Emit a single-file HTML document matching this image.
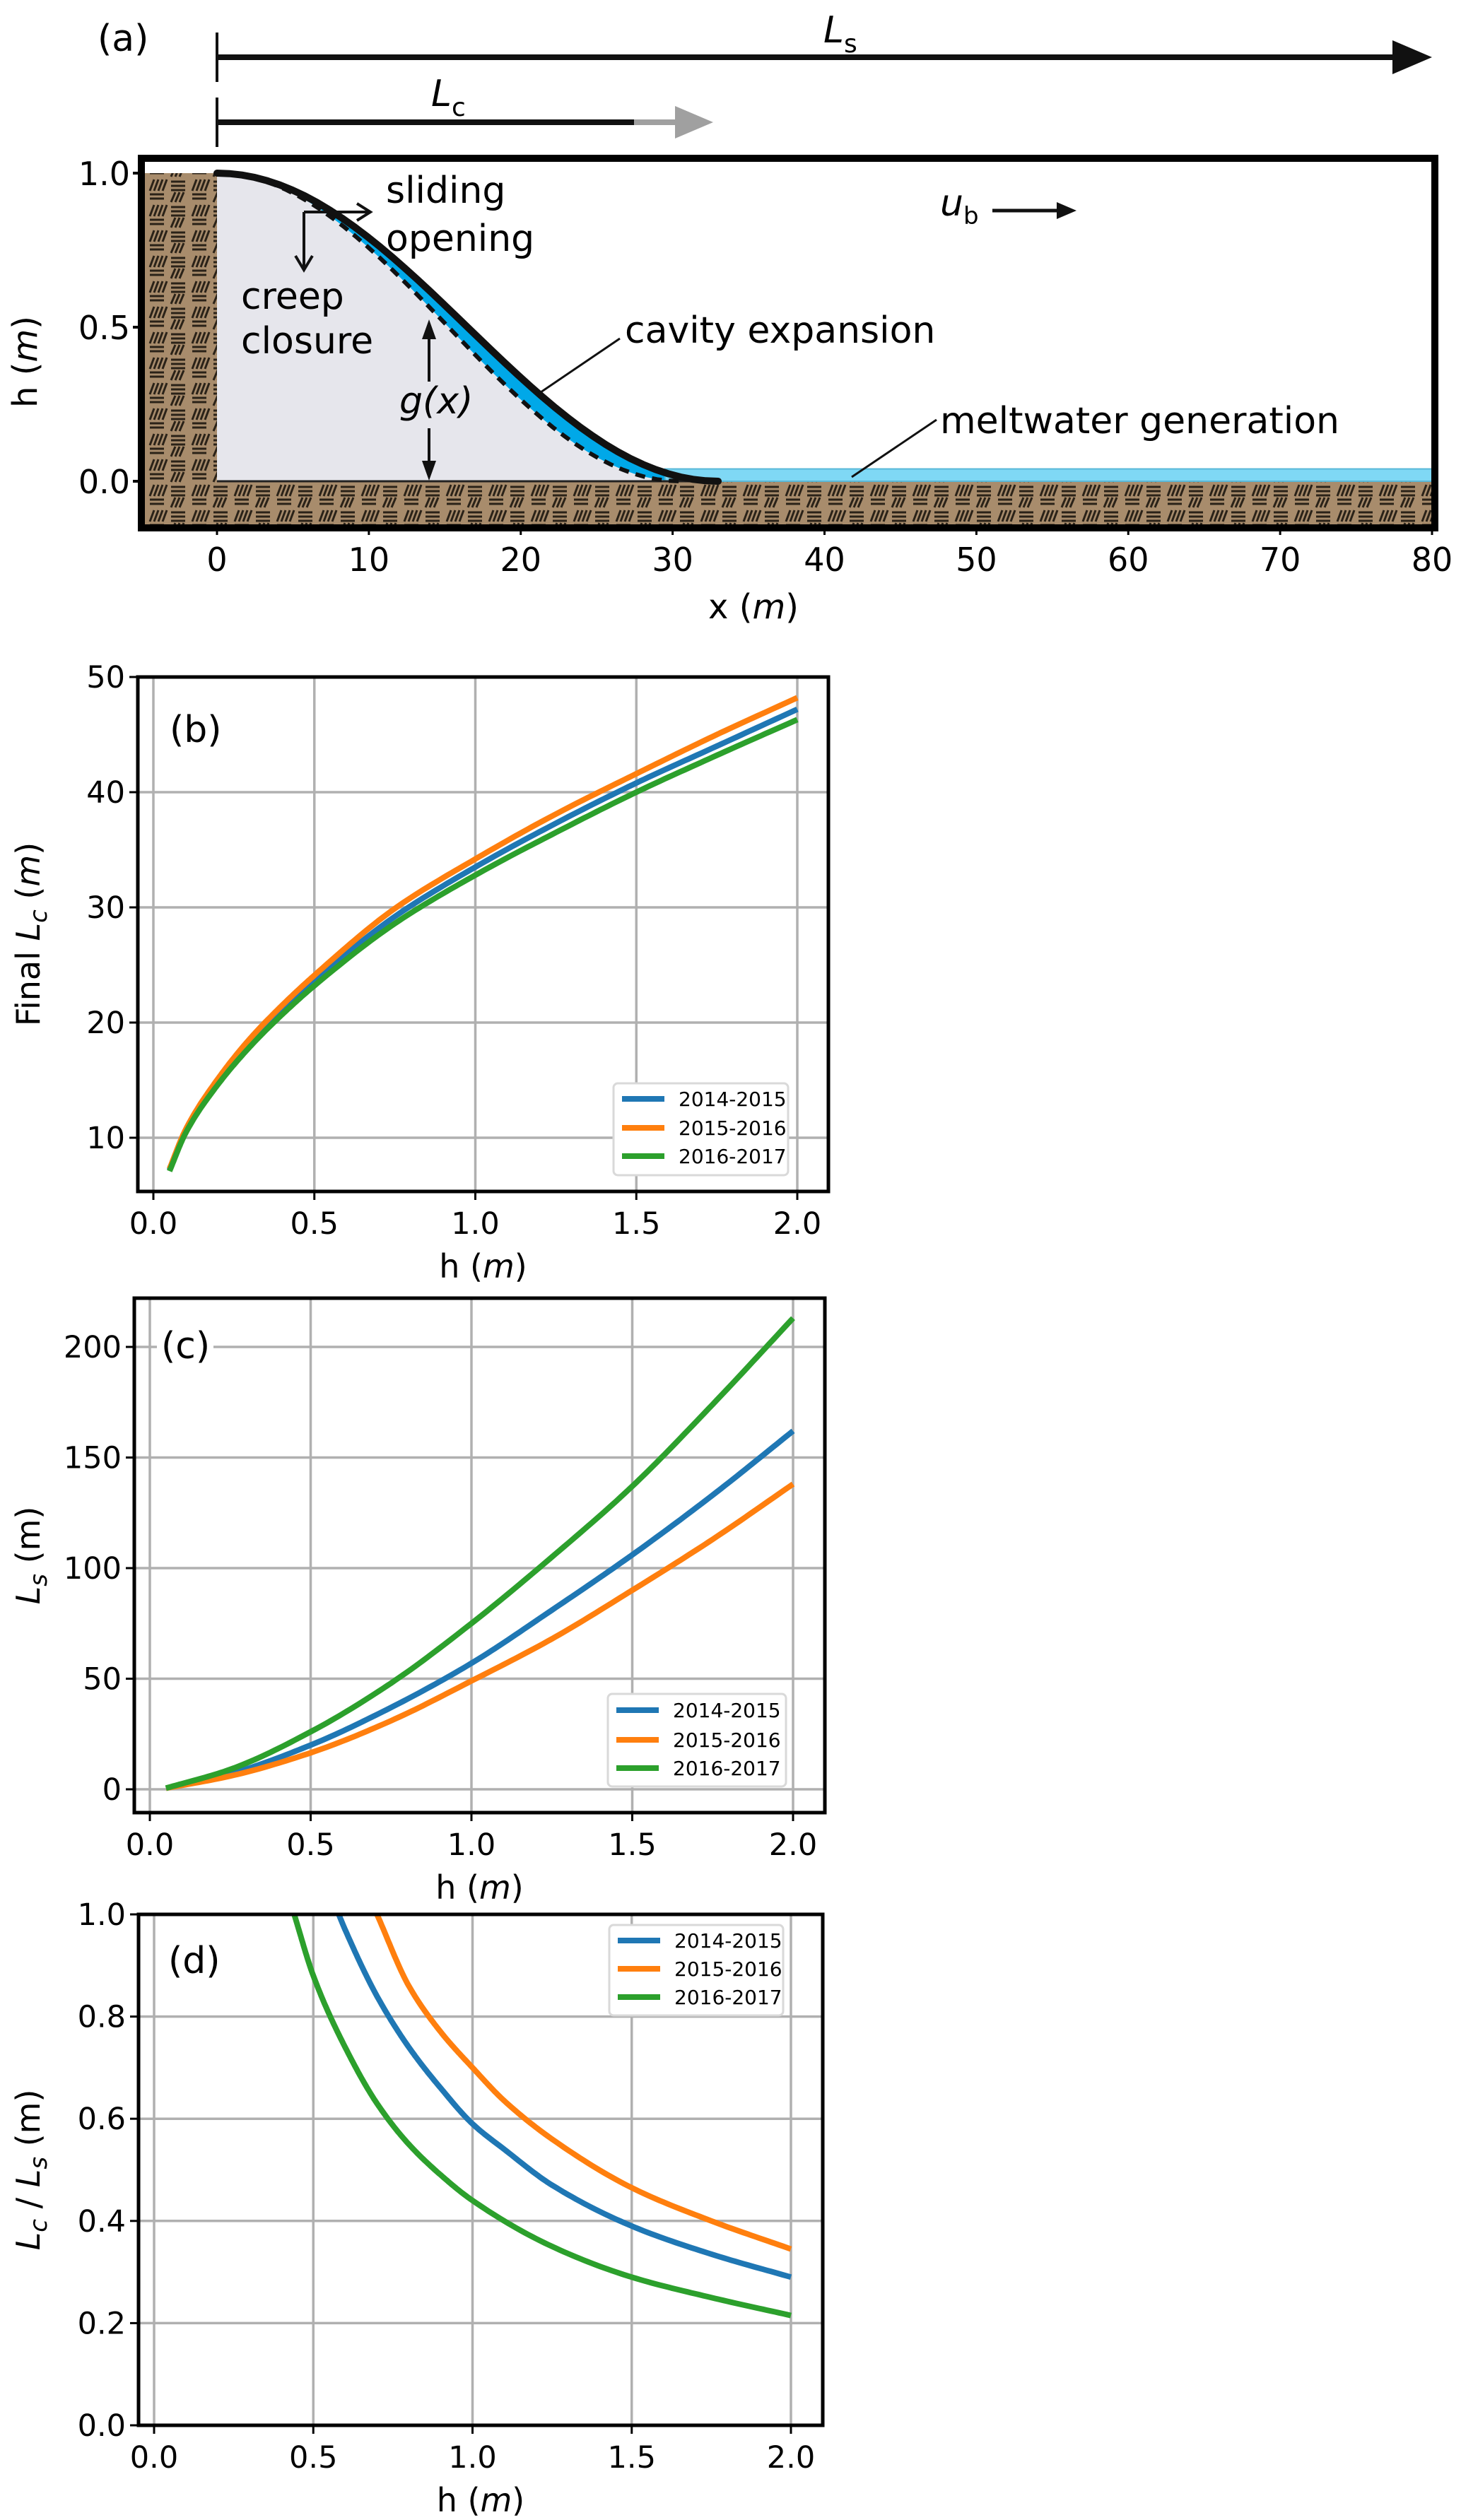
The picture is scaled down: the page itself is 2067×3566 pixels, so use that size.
<!DOCTYPE html>
<html><head><meta charset="utf-8"><style>
html,body{margin:0;padding:0;background:#fff}
svg{display:block;font-family:"DejaVu Sans","Liberation Sans",sans-serif}
</style></head><body>
<svg id="fig" width="2067" height="3566" viewBox="0 0 2067 3566" xmlns="http://www.w3.org/2000/svg">
<defs>
<pattern id="soil" width="60" height="36" patternUnits="userSpaceOnUse">
<rect width="60" height="36" fill="#a88c6c"/>
<g stroke="#2a2218" stroke-width="3">
<line x1="2" y1="5" x2="22" y2="5"/><line x1="2" y1="11" x2="22" y2="11"/><line x1="2" y1="17" x2="22" y2="17"/>
<line x1="32" y1="18" x2="38" y2="2"/><line x1="38" y1="18" x2="44" y2="2"/><line x1="44" y1="18" x2="50" y2="2"/><line x1="50" y1="18" x2="56" y2="2"/>
<line x1="32" y1="23" x2="52" y2="23"/><line x1="32" y1="29" x2="52" y2="29"/>
<line x1="2" y1="34" x2="8" y2="20"/><line x1="8" y1="34" x2="14" y2="20"/><line x1="14" y1="34" x2="20" y2="20"/>
</g>
</pattern>
</defs>
<g id="panelA"></g>
<g id="panelB"></g>
<g id="panelC"></g>
<g id="panelD"></g>
</svg>
<script>
// ---- data ----
const seriesNames = ["2014-2015","2015-2016","2016-2017"];
const seriesColors = ["#1f77b4","#ff7f0e","#2ca02c"];
const hB = [0.05,0.1,0.2,0.3,0.4,0.5,0.75,1.0,1.25,1.5,1.75,2.0];
const lcBlue   = [7.2,10.5,14.8,18.2,21.0,23.6,29.2,33.5,37.3,40.8,44.0,47.2];
const lcOrange = [7.3,10.7,15.1,18.6,21.5,24.1,29.9,34.2,38.1,41.6,45.0,48.2];
const lcGreen  = [7.1,10.4,14.6,17.9,20.7,23.2,28.6,32.8,36.5,40.0,43.2,46.3];
const hC = [0.05,0.25,0.5,0.75,1.0,1.25,1.5,1.75,2.0];
const lsBlue   = [0.5,7,20,37,57,81,106,133,162];
const lsOrange = [0.5,6,16.5,31,49,68,90,113,138];
const lsGreen  = [0.5,9,26,48,75,105,137,174,213];
const hDBlue   = [0.58,0.6,0.7,0.8,0.9,1.0,1.1,1.25,1.5,1.75,2.0];
const rBlue    = [1.0,0.97,0.84,0.74,0.66,0.59,0.54,0.47,0.39,0.335,0.29];
const hDOrange = [0.70,0.8,0.9,1.0,1.1,1.25,1.5,1.75,2.0];
const rOrange  = [1.0,0.86,0.77,0.70,0.635,0.56,0.465,0.40,0.345];
const hDGreen  = [0.44,0.5,0.6,0.7,0.8,0.9,1.0,1.25,1.5,1.75,2.0];
const rGreen   = [1.0,0.88,0.74,0.63,0.55,0.49,0.44,0.35,0.29,0.25,0.215];
const xTicksH = [0,0.5,1.0,1.5,2.0];
const xTickLabelsH = ["0.0","0.5","1.0","1.5","2.0"];
const yTicksB = [10,20,30,40,50];
const yTicksC = [0,50,100,150,200];
const yTicksD = [0,0.2,0.4,0.6,0.8,1.0];
const yTickLabelsD = ["0.0","0.2","0.4","0.6","0.8","1.0"];
const xTicksA = [0,10,20,30,40,50,60,70,80];
const yTicksA = [0,0.5,1.0];
const yTickLabelsA = ["0.0","0.5","1.0"];

const NS="http://www.w3.org/2000/svg";
function mk(parent,tag,attrs,text){const e=document.createElementNS(NS,tag);for(const k in attrs)e.setAttribute(k,attrs[k]);if(text!==undefined)e.textContent=text;parent.appendChild(e);return e;}
function linScale(d0,d1,r0,r1){return v=>r0+(v-d0)*(r1-r0)/(d1-d0);}
// monotone cubic (Fritsch-Carlson) sampled in data space
function monoSample(xs,ys){const n=xs.length,d=[],m=[];
  for(let i=0;i<n-1;i++)d.push((ys[i+1]-ys[i])/(xs[i+1]-xs[i]));
  m[0]=d[0];m[n-1]=d[n-2];
  for(let i=1;i<n-1;i++){if(d[i-1]*d[i]<=0)m[i]=0;else{const w1=2*(xs[i+1]-xs[i])+(xs[i]-xs[i-1]),w2=(xs[i+1]-xs[i])+2*(xs[i]-xs[i-1]);m[i]=(w1+w2)/(w1/d[i-1]+w2/d[i]);}}
  const out=[];
  for(let i=0;i<n-1;i++){const h=xs[i+1]-xs[i];for(let k=0;k<20;k++){const t=k/20,t2=t*t,t3=t2*t;
    const y=(2*t3-3*t2+1)*ys[i]+(t3-2*t2+t)*h*m[i]+(-2*t3+3*t2)*ys[i+1]+(t3-t2)*h*m[i+1];out.push([xs[i]+t*h,y]);}}
  out.push([xs[n-1],ys[n-1]]);return out;}

function chart(g,cfg){
  const sx=linScale(0,2,cfg.x0,cfg.x2), sy=linScale(cfg.yA,cfg.yB,cfg.pyA,cfg.pyB);
  mk(g,"rect",{x:cfg.L,y:cfg.T,width:cfg.R-cfg.L,height:cfg.B-cfg.T,fill:"#fff"});
  const grid=mk(g,"g",{stroke:"#b0b0b0","stroke-width":3.5});
  
  
  xTicksH.forEach((t,i)=>{const x=sx(t);mk(grid,"line",{x1:x,x2:x,y1:cfg.T,y2:cfg.B});
    mk(g,"line",{x1:x,x2:x,y1:cfg.B,y2:cfg.B+12,stroke:"#000","stroke-width":3});
    const tl=mk(g,"text",{x:x,y:cfg.B+60,"font-size":43,"text-anchor":"middle"},xTickLabelsH[i]);
    
    });
  cfg.yTicks.forEach((t,i)=>{const y=sy(t);mk(grid,"line",{x1:cfg.L,x2:cfg.R,y1:y,y2:y});
    mk(g,"line",{x1:cfg.L-12,x2:cfg.L,y1:y,y2:y,stroke:"#000","stroke-width":3});
    const tl=mk(g,"text",{x:cfg.L-18,y:y+15,"font-size":43,"text-anchor":"end"},cfg.yLabels?cfg.yLabels[i]:String(t));
    
    });
  const clip=mk(g,"clipPath",{id:cfg.id+"clip"});mk(clip,"rect",{x:cfg.L,y:cfg.T-6,width:cfg.R-cfg.L,height:cfg.B-cfg.T+6});
  const lines=mk(g,"g",{"clip-path":"url(#"+cfg.id+"clip)"});
  cfg.series.forEach((s,i)=>{const pts=monoSample(s.x,s.y).map(p=>[sx(p[0]).toFixed(1),sy(p[1]).toFixed(1)]);
    const p=mk(lines,"polyline",{points:pts.map(q=>q.join(",")).join(" "),fill:"none",stroke:seriesColors[i],"stroke-width":8,"stroke-linejoin":"round"});
    
    });
  if(cfg.labelBg){mk(g,"rect",{x:cfg.lab[0]-6,y:cfg.lab[1]-44,width:80,height:58,fill:"#fff"});}
  const pl=mk(g,"text",{x:cfg.lab[0],y:cfg.lab[1],"font-size":52},cfg.labText);
  
  
  const lg=mk(g,"g",{});
  
  
  mk(lg,"rect",{x:cfg.leg[0],y:cfg.leg[1],width:cfg.leg[2],height:cfg.leg[3],rx:6,fill:"#fff",stroke:"#d9d9d9","stroke-width":3});
  cfg.legY.forEach((y,i)=>{const e=mk(lg,"g",{});
    
    
    mk(e,"line",{x1:cfg.leg[0]+12,x2:cfg.leg[0]+72,y1:y,y2:y,stroke:seriesColors[i],"stroke-width":8});
    mk(e,"text",{x:cfg.leg[0]+92,y:y+10,"font-size":28},seriesNames[i]);});
  mk(g,"rect",{x:cfg.L,y:cfg.T,width:cfg.R-cfg.L,height:cfg.B-cfg.T,fill:"none",stroke:"#000","stroke-width":5});
  const xl=mk(g,"text",{x:(cfg.L+cfg.R)/2,y:cfg.B+122,"font-size":46,"text-anchor":"middle"});
  
  
  xl.innerHTML='h (<tspan font-style="italic">m</tspan>)';
  const yl=mk(g,"text",{x:0,y:0,"font-size":46,"text-anchor":"middle",transform:"translate("+cfg.ylx+","+((cfg.T+cfg.B)/2)+") rotate(-90)"});
  
  
  yl.innerHTML=cfg.ylab;
}

chart(document.getElementById("panelB"),{id:"b",L:195,R:1172,T:958,B:1686,x0:217,x2:1128,yA:10,yB:50,pyA:1610,pyB:958,
  yTicks:yTicksB,series:[{x:hB,y:lcBlue},{x:hB,y:lcOrange},{x:hB,y:lcGreen}],
  lab:[240,1050],labText:"(b)",leg:[868,1533,247,130],legY:[1555,1596,1636],ylx:56,
  ylab:'Final <tspan font-style="italic">L</tspan><tspan font-style="italic" font-size="34" dy="10">c</tspan><tspan dy="-10"> (</tspan><tspan font-style="italic">m</tspan>)'});
chart(document.getElementById("panelC"),{id:"c",L:190,R:1167,T:1837,B:2565,x0:212,x2:1122,yA:0,yB:200,pyA:2532,pyB:1906,
  yTicks:yTicksC,series:[{x:hC,y:lsBlue},{x:hC,y:lsOrange},{x:hC,y:lsGreen}],
  lab:[228,1922],labText:"(c)",labelBg:true,leg:[860,2397,252,131],legY:[2420,2462,2502],ylx:56,
  ylab:'<tspan font-style="italic">L</tspan><tspan font-style="italic" font-size="34" dy="10">s</tspan><tspan dy="-10"> (m)</tspan>'});
chart(document.getElementById("panelD"),{id:"d",L:196,R:1164,T:2709,B:3432,x0:218,x2:1119,yA:0,yB:1,pyA:3432,pyB:2709,
  yTicks:yTicksD,yLabels:yTickLabelsD,series:[{x:hDBlue,y:rBlue},{x:hDOrange,y:rOrange},{x:hDGreen,y:rGreen}],
  lab:[238,2792],labText:"(d)",leg:[862,2724,246,128],legY:[2746,2786,2826],ylx:56,
  ylab:'<tspan font-style="italic">L</tspan><tspan font-style="italic" font-size="34" dy="10">c</tspan><tspan dy="-10"> / </tspan><tspan font-style="italic">L</tspan><tspan font-style="italic" font-size="34" dy="10">s</tspan><tspan dy="-10"> (m)</tspan>'});

// ---- panel a ----
(function(){
  const g=document.getElementById("panelA");
  const sx=linScale(0,80,307,2026), sy=linScale(0,1,681,245);
  const L=200,R=2030,T=224,B=747;
  mk(g,"rect",{x:L,y:sy(1),width:sx(0)-L,height:B-sy(1),fill:"url(#soil)"});
  mk(g,"rect",{x:L,y:sy(0),width:R-L,height:B-sy(0),fill:"url(#soil)"});
  const cavLen=33, dashLen=30.5;
  const solid=[],dashed=[];
  for(let i=0;i<=40;i++){const x=cavLen*i/40;solid.push([sx(x),sy(0.5*(1+Math.cos(Math.PI*x/cavLen)))]);}
  for(let i=0;i<=40;i++){const x=dashLen*i/40;dashed.push([sx(x),sy(0.5*(1+Math.cos(Math.PI*x/dashLen)))]);}
  const toD=p=>p.map((q,i)=>(i?"L":"M")+q[0].toFixed(1)+","+q[1].toFixed(1)).join(" ");
  mk(g,"path",{d:toD(dashed)+" L"+sx(0)+","+sy(0)+" Z",fill:"#e6e6ec"});
  mk(g,"path",{d:toD(solid)+" "+toD(dashed.slice().reverse()).replace("M","L")+" Z",fill:"#00a8e8"});
  const w=mk(g,"rect",{x:sx(29.5),y:sy(0.04),width:R-sx(29.5),height:sy(0)-sy(0.04),fill:"#7fd8f5",stroke:"#59b8d8","stroke-width":2});
  
  
  mk(g,"line",{x1:sx(0),x2:sx(33),y1:sy(0),y2:sy(0),stroke:"#222","stroke-width":3});
  mk(g,"path",{d:toD(dashed),fill:"none",stroke:"#111","stroke-width":6,"stroke-dasharray":"14,10"});
  const c=mk(g,"path",{d:toD(solid),fill:"none",stroke:"#111","stroke-width":10,"stroke-linecap":"round"});
  
  
  mk(g,"rect",{x:L,y:T,width:R-L,height:B-T,fill:"none",stroke:"#000","stroke-width":10});
  xTicksA.forEach(t=>{const x=sx(t);mk(g,"line",{x1:x,x2:x,y1:B,y2:B+10,stroke:"#000","stroke-width":3});
    const tl=mk(g,"text",{x:x,y:808,"font-size":46,"text-anchor":"middle"},String(t));
    
    });
  yTicksA.forEach((t,i)=>{const y=sy(t);mk(g,"line",{x1:L-12,x2:L,y1:y,y2:y,stroke:"#000","stroke-width":4});
    const tl=mk(g,"text",{x:L-16,y:y+17,"font-size":46,"text-anchor":"end"},yTickLabelsA[i]);
    
    });
  const xl=mk(g,"text",{x:1066,y:875,"font-size":48,"text-anchor":"middle"});xl.innerHTML='x (<tspan font-style="italic">m</tspan>)';
  
  
  const yl=mk(g,"text",{x:0,y:0,"font-size":48,"text-anchor":"middle",transform:"translate(52,512) rotate(-90)"});yl.innerHTML='h (<tspan font-style="italic">m</tspan>)';
  
  
  const ar=mk(g,"g",{stroke:"#111","stroke-width":4,fill:"none"});
  mk(ar,"line",{x1:307,x2:307,y1:46,y2:116});
  mk(ar,"line",{x1:307,x2:1975,y1:81,y2:81,"stroke-width":8});
  mk(g,"polygon",{points:"1970,57 2026,81 1970,105",fill:"#111"});
  mk(ar,"line",{x1:307,x2:307,y1:138,y2:208});
  mk(ar,"line",{x1:307,x2:897,y1:173,y2:173,"stroke-width":8});
  mk(g,"line",{x1:897,x2:960,y1:173,y2:173,stroke:"#a0a0a0","stroke-width":8});
  mk(g,"polygon",{points:"955,150 1009,173 955,196",fill:"#a0a0a0"});
  const ls=mk(g,"text",{x:1165,y:60,"font-size":52,"font-style":"italic"});ls.innerHTML='L<tspan font-style="normal" font-size="36" dy="14">s</tspan>';
  const lc=mk(g,"text",{x:610,y:150,"font-size":52,"font-style":"italic"});lc.innerHTML='L<tspan font-style="normal" font-size="36" dy="14">c</tspan>';
  mk(g,"text",{x:138,y:72,"font-size":52},"(a)");
  mk(ar,"line",{x1:430,x2:522,y1:300,y2:300});mk(ar,"polyline",{points:"505,288 524,300 505,312"});
  mk(ar,"line",{x1:430,x2:430,y1:300,y2:380});mk(ar,"polyline",{points:"418,362 430,382 442,362"});
  mk(ar,"line",{x1:607,x2:607,y1:540,y2:458});mk(g,"polygon",{points:"597,480 607,452 617,480",fill:"#111"});
  mk(ar,"line",{x1:607,x2:607,y1:606,y2:672});mk(g,"polygon",{points:"597,652 607,680 617,652",fill:"#111"});
  mk(ar,"line",{x1:1404,x2:1500,y1:298,y2:298,"stroke-width":5});mk(g,"polygon",{points:"1495,286 1523,298 1495,310",fill:"#111"});
  mk(ar,"line",{x1:877,x2:762,y1:479,y2:557,"stroke-width":3});
  mk(ar,"line",{x1:1325,x2:1205,y1:594,y2:675,"stroke-width":3});
  const labels=[["sliding",546,287],["opening",546,355],["creep",341,437],["closure",341,500],["cavity expansion",884,485],["meltwater generation",1330,613]];
  labels.forEach(l=>{const t=mk(g,"text",{x:l[1],y:l[2],"font-size":52},l[0]);
    
    });
  mk(g,"text",{x:565,y:585,"font-size":52,"font-style":"italic"},"g(x)");
  const ub=mk(g,"text",{x:1330,y:305,"font-size":52,"font-style":"italic"});ub.innerHTML='u<tspan font-style="normal" font-size="34" dy="12">b</tspan>';
})();
</script>
</body></html>
